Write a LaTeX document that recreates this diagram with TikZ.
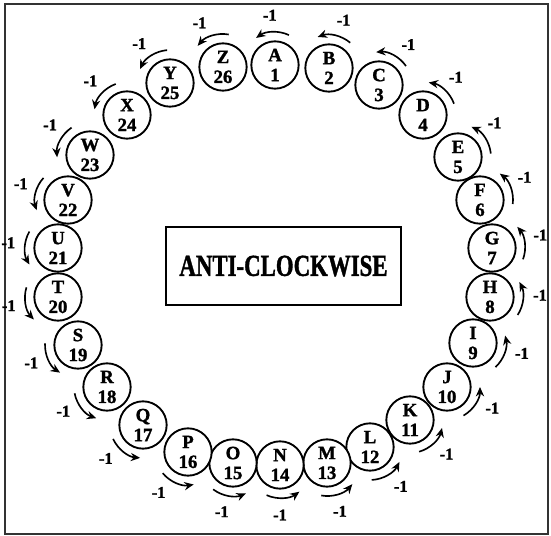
\documentclass[tikz,border=0pt]{standalone}
\usepackage{fontspec}
\setmainfont{Liberation Serif}[BoldFeatures={FakeBold=1.5}]
\usetikzlibrary{arrows.meta}

\begin{document}
\begin{tikzpicture}[
    x=0.03cm, y=0.03cm,
    letternode/.style={
        circle, draw=black, line width=1.6pt,
        fill=white,
        minimum size=1.42cm, inner sep=0pt, align=center,
        font=\fontsize{16}{17}\selectfont\bfseries
    },
    titlebox/.style={
        rectangle, draw=black, line width=1.7pt,
        fill=white,
        minimum width=7.05cm, minimum height=2.34cm, align=center,
        font=\fontsize{26}{30}\selectfont\bfseries
    },
    backarrow/.style={draw=black, line width=1.4pt, -{Stealth[length=8pt, width=7pt]}},
    stepvalue/.style={font=\fontsize{14}{16}\selectfont\bfseries, inner sep=1pt}
]

\useasboundingbox (0,0) rectangle (551,536);
\draw[line width=1.2pt, draw=black!80] (5,2) rectangle (548,532);

% ---------------------------------------------------------------------
% 1. CENTER: TITLE
% ---------------------------------------------------------------------
\node[titlebox] (Title) at (283.5,270) {\scalebox{0.75}[1]{ANTI-CLOCKWISE}};

% ---------------------------------------------------------------------
% 2. TOP HALF: A .. M (going round to the right)
% ---------------------------------------------------------------------
\node[letternode] (A) at (275,471) {A\\1};
\node[letternode] (B) at (329,468) {B\\2};
\node[letternode] (C) at (379,451) {C\\3};
\node[letternode] (D) at (423,421) {D\\4};
\node[letternode] (E) at (458,379) {E\\5};
\node[letternode] (F) at (480,336) {F\\6};
\node[letternode] (G) at (492,288) {G\\7};
\node[letternode] (H) at (490,239) {H\\8};
\node[letternode] (I) at (473,193) {I\\9};
\node[letternode] (J) at (447,149) {J\\10};
\node[letternode] (K) at (410,116) {K\\11};
\node[letternode] (L) at (370,89) {L\\12};
\node[letternode] (M) at (327,73) {M\\13};

% ---------------------------------------------------------------------
% 3. BOTTOM AND LEFT: N .. Z
% ---------------------------------------------------------------------
\node[letternode] (N) at (280,71) {N\\14};
\node[letternode] (O) at (233,73) {O\\15};
\node[letternode] (P) at (188,84) {P\\16};
\node[letternode] (Q) at (143,111) {Q\\17};
\node[letternode] (R) at (107,149) {R\\18};
\node[letternode] (S) at (78,191) {S\\19};
\node[letternode] (T) at (58,239) {T\\20};
\node[letternode] (U) at (58,288) {U\\21};
\node[letternode] (V) at (68,336) {V\\22};
\node[letternode] (W) at (90,381) {W\\23};
\node[letternode] (X) at (127,421) {X\\24};
\node[letternode] (Y) at (170,453) {Y\\25};
\node[letternode] (Z) at (223,469) {Z\\26};

% ---------------------------------------------------------------------
% STEPS (one arrow and one -1 outside every letter)
% ---------------------------------------------------------------------
\draw[backarrow] ([shift={(65:33)}]A.center) arc[start angle=65, end angle=125, radius=33];
\node[stepvalue] (mA) at ([shift={(96:50)}]A.center) {-1};
\draw[backarrow] ([shift={(50:33)}]B.center) arc[start angle=50, end angle=110, radius=33];
\node[stepvalue] (mB) at ([shift={(73:50)}]B.center) {-1};
\draw[backarrow] ([shift={(35:33)}]C.center) arc[start angle=35, end angle=95, radius=33];
\node[stepvalue] (mC) at ([shift={(54:50)}]C.center) {-1};
\draw[backarrow] ([shift={(20:33)}]D.center) arc[start angle=20, end angle=80, radius=33];
\node[stepvalue] (mD) at ([shift={(49:50)}]D.center) {-1};
\draw[backarrow] ([shift={(6:33)}]E.center) arc[start angle=6, end angle=66, radius=33];
\node[stepvalue] (mE) at ([shift={(43:50)}]E.center) {-1};
\draw[backarrow] ([shift={(-7:33)}]F.center) arc[start angle=-7, end angle=53, radius=33];
\node[stepvalue] (mF) at ([shift={(27:50)}]F.center) {-1};
\draw[backarrow] ([shift={(-20:33)}]G.center) arc[start angle=-20, end angle=40, radius=33];
\node[stepvalue] (mG) at ([shift={(15:50)}]G.center) {-1};
\draw[backarrow] ([shift={(-33:33)}]H.center) arc[start angle=-33, end angle=27, radius=33];
\node[stepvalue] (mH) at ([shift={(2:50)}]H.center) {-1};
\draw[backarrow] ([shift={(-47:33)}]I.center) arc[start angle=-47, end angle=13, radius=33];
\node[stepvalue] (mI) at ([shift={(-12:50)}]I.center) {-1};
\draw[backarrow] ([shift={(-60:33)}]J.center) arc[start angle=-60, end angle=0, radius=33];
\node[stepvalue] (mJ) at ([shift={(-25:50)}]J.center) {-1};
\draw[backarrow] ([shift={(-74:33)}]K.center) arc[start angle=-74, end angle=-14, radius=33];
\node[stepvalue] (mK) at ([shift={(-43:50)}]K.center) {-1};
\draw[backarrow] ([shift={(-87:33)}]L.center) arc[start angle=-87, end angle=-27, radius=33];
\node[stepvalue] (mL) at ([shift={(-52:50)}]L.center) {-1};
\draw[backarrow] ([shift={(-100:33)}]M.center) arc[start angle=-100, end angle=-40, radius=33];
\node[stepvalue] (mM) at ([shift={(-75:50)}]M.center) {-1};
\draw[backarrow] ([shift={(-114:33)}]N.center) arc[start angle=-114, end angle=-54, radius=33];
\node[stepvalue] (mN) at ([shift={(-90:50)}]N.center) {-1};
\draw[backarrow] ([shift={(-127:33)}]O.center) arc[start angle=-127, end angle=-67, radius=33];
\node[stepvalue] (mO) at ([shift={(-103:50)}]O.center) {-1};
\draw[backarrow] ([shift={(-140:33)}]P.center) arc[start angle=-140, end angle=-80, radius=33];
\node[stepvalue] (mP) at ([shift={(-126:50)}]P.center) {-1};
\draw[backarrow] ([shift={(-155:33)}]Q.center) arc[start angle=-155, end angle=-95, radius=33];
\node[stepvalue] (mQ) at ([shift={(-138:50)}]Q.center) {-1};
\draw[backarrow] ([shift={(-169:33)}]R.center) arc[start angle=-169, end angle=-109, radius=33];
\node[stepvalue] (mR) at ([shift={(-151:50)}]R.center) {-1};
\draw[backarrow] ([shift={(-183:33)}]S.center) arc[start angle=-183, end angle=-123, radius=33];
\node[stepvalue] (mS) at ([shift={(-159:50)}]S.center) {-1};
\draw[backarrow] ([shift={(-197:33)}]T.center) arc[start angle=-197, end angle=-137, radius=33];
\node[stepvalue] (mT) at ([shift={(-170:50)}]T.center) {-1};
\draw[backarrow] ([shift={(150:33)}]U.center) arc[start angle=150, end angle=210, radius=33];
\node[stepvalue] (mU) at ([shift={(174:50)}]U.center) {-1};
\draw[backarrow] ([shift={(138:33)}]V.center) arc[start angle=138, end angle=198, radius=33];
\node[stepvalue] (mV) at ([shift={(161:50)}]V.center) {-1};
\draw[backarrow] ([shift={(124:33)}]W.center) arc[start angle=124, end angle=184, radius=33];
\node[stepvalue] (mW) at ([shift={(143:50)}]W.center) {-1};
\draw[backarrow] ([shift={(110:33)}]X.center) arc[start angle=110, end angle=170, radius=33];
\node[stepvalue] (mX) at ([shift={(137:50)}]X.center) {-1};
\draw[backarrow] ([shift={(95:33)}]Y.center) arc[start angle=95, end angle=155, radius=33];
\node[stepvalue] (mY) at ([shift={(128:50)}]Y.center) {-1};
\draw[backarrow] ([shift={(80:33)}]Z.center) arc[start angle=80, end angle=140, radius=33];
\node[stepvalue] (mZ) at ([shift={(118:50)}]Z.center) {-1};

\end{tikzpicture}
\end{document}
